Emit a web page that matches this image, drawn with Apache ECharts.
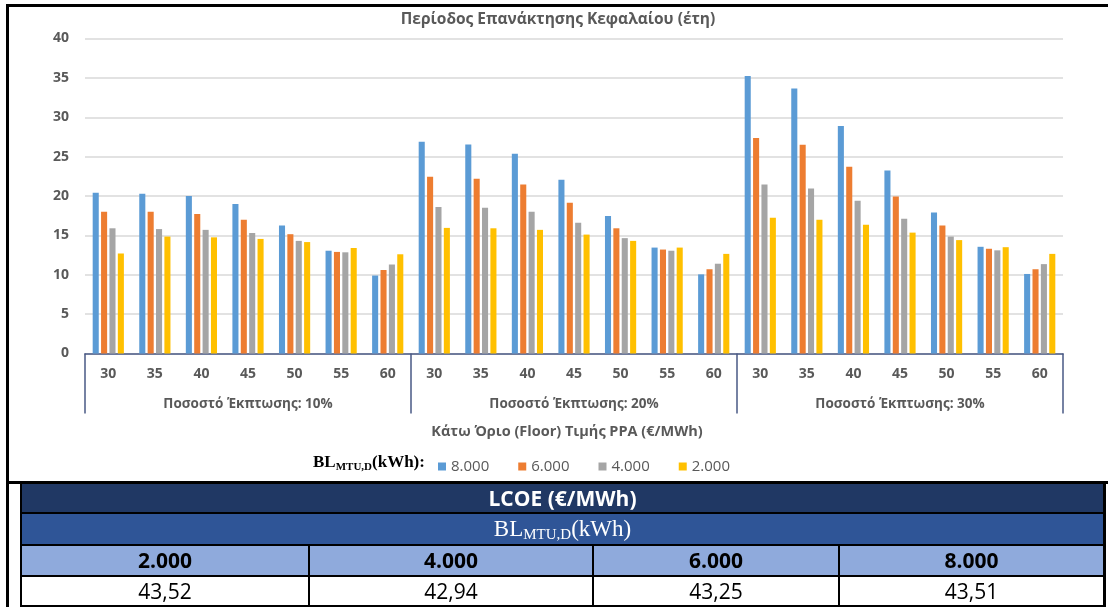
<!DOCTYPE html>
<html>
<head>
<meta charset="utf-8">
<script src="https://cdn.jsdelivr.net/npm/echarts@6/dist/echarts.min.js"></script>
<style>
  html, body { margin: 0; padding: 0; background: #fff; }
  #wrap { position: relative; width: 1108px; height: 607px; overflow: hidden; background: #fff; }
  #chart { position: absolute; left: 0; top: 0; width: 1108px; height: 482px; }
  .ln { position: absolute; background: #000; pointer-events: none; }
  table.lcoe { position: absolute; left: 20px; top: 481px; border-collapse: collapse; table-layout: fixed; width: 1083px; }
  table.lcoe td { border: 2px solid #000; padding: 0; text-align: center; font-family: "Open Sans", "Noto Sans", sans-serif; font-size: 21px; line-height: 28px; height: 28px; color: #000; white-space: nowrap; overflow: hidden; }
  table.lcoe tr.r1 td { background: #203864; color: #fff; font-weight: bold; border-top-width: 3px; }
  table.lcoe tr.r2 td { background: #2F5597; color: #fff; font-family: "Liberation Serif", "DejaVu Serif", serif; font-size: 23px; height: 30px; line-height: 30px; }
  table.lcoe tr.r2 td sub { font-size: 15px; vertical-align: -3px; line-height: 0; }
  table.lcoe tr.r3 td { background: #8FAADC; font-weight: bold; height: 29px; line-height: 29px; }
  table.lcoe tr.r4 td { background: #fff; height: 28px; line-height: 28px; }
</style>
</head>
<body>
<div id="wrap">
  <div id="chart"></div>
  <div class="ln" style="left:6px; top:4px; width:1102px; height:3px;"></div>
  <div class="ln" style="left:6px; top:4px; width:3px; height:603px;"></div>
  <div class="ln" style="left:6px; top:481px; width:1102px; height:3px;"></div>
  <div class="ln" style="left:1105px; top:482px; width:1px; height:125px;"></div>
  <table class="lcoe" id="lcoe"></table>
</div>
<script>
// ---- data ----
const floorPrices = ['30', '35', '40', '45', '50', '55', '60'];
const discountGroups = ['Ποσοστό Έκπτωσης: 10%', 'Ποσοστό Έκπτωσης: 20%', 'Ποσοστό Έκπτωσης: 30%'];
const seriesNames = ['8.000', '6.000', '4.000', '2.000'];
const bl8000 = [20.4, 20.3, 20.0, 19.0, 16.25, 13.05, 9.9,
                26.9, 26.55, 25.35, 22.05, 17.45, 13.45, 10.05,
                35.25, 33.65, 28.9, 23.25, 17.9, 13.55, 10.1];
const bl6000 = [18.0, 18.0, 17.7, 17.0, 15.15, 12.9, 10.6,
                22.45, 22.2, 21.45, 19.15, 15.9, 13.2, 10.7,
                27.35, 26.5, 23.7, 19.95, 16.25, 13.3, 10.7];
const bl4000 = [15.9, 15.8, 15.7, 15.3, 14.3, 12.85, 11.3,
                18.6, 18.5, 18.0, 16.6, 14.65, 13.05, 11.4,
                21.45, 20.95, 19.4, 17.1, 14.85, 13.1, 11.35];
const bl2000 = [12.7, 14.85, 14.75, 14.55, 14.15, 13.4, 12.6,
                15.95, 15.9, 15.7, 15.1, 14.3, 13.45, 12.65,
                17.25, 17.0, 16.35, 15.35, 14.4, 13.5, 12.65];
const yTicks = { min: 0, max: 40, interval: 5 };
const chartTitle = 'Περίοδος Επανάκτησης Κεφαλαίου (έτη)';
const xAxisTitle = 'Κάτω Όριο (Floor) Τιμής PPA (€/MWh)';
const lcoeTitle = 'LCOE (€/MWh)';
const lcoeHeaders = ['2.000', '4.000', '6.000', '8.000'];
const lcoeValues = ['43,52', '42,94', '43,25', '43,51'];

// ---- build ----
const categories = [];
discountGroups.forEach(() => floorPrices.forEach(p => categories.push(p)));
const seriesData = [bl8000, bl6000, bl4000, bl2000];
const colors = ['#5B9BD5', '#ED7D31', '#A5A5A5', '#FFC000'];
const gray = '#595959';
const font = '"Open Sans", "Noto Sans", sans-serif';
const serif = '"Liberation Serif", "DejaVu Serif", serif';
const axisBlue = '#4A5A85';

const chart = echarts.init(document.getElementById('chart'), null, { renderer: 'canvas' });
chart.setOption({
  backgroundColor: '#fff',
  animation: false,
  color: colors,
  grid: { left: 85, right: 45, top: 38.5, bottom: 128.5, containLabel: false, outerBoundsMode: 'none' },
  legend: {
    data: seriesNames,
    left: 433, top: 454,
    icon: 'rect', itemWidth: 8, itemHeight: 8, itemGap: 29,
    textStyle: { color: gray, fontFamily: font, fontSize: 15 }
  },
  xAxis: [
    {
      type: 'category', data: categories, gridIndex: 0, position: 'bottom',
      axisLine: { show: true, lineStyle: { color: axisBlue, width: 1.5 } },
      axisTick: { show: false },
      axisLabel: { interval: 0, color: gray, fontFamily: font, fontSize: 14, fontWeight: 'bold', margin: 14 },
      splitLine: { show: false }
    },
    {
      type: 'category', data: discountGroups, gridIndex: 0, position: 'bottom', offset: 0,
      axisLine: { show: false },
      axisTick: { show: true, interval: 0, length: 60, lineStyle: { color: axisBlue, width: 1.5 } },
      axisLabel: { interval: 0, color: gray, fontFamily: font, fontSize: 13.5, fontWeight: 'bold', margin: 44 },
      splitLine: { show: false }
    }
  ],
  yAxis: {
    type: 'value', min: yTicks.min, max: yTicks.max, interval: yTicks.interval,
    axisLine: { show: false }, axisTick: { show: false },
    axisLabel: { color: gray, fontFamily: font, fontSize: 14, fontWeight: 'bold', margin: 16 },
    splitLine: { show: true, lineStyle: { color: '#D9D9D9', width: 1.5 } }
  },
  series: seriesNames.map((n, i) => ({
    name: n, type: 'bar', xAxisIndex: 0, data: seriesData[i],
    barGap: '38%', barCategoryGap: '33%',
    itemStyle: { color: colors[i] }
  })),
  graphic: [
    {
      type: 'text', x: 558, y: 20,
      style: { text: chartTitle, fill: gray, fontFamily: font, fontSize: 15.5, fontWeight: 'bold', align: 'center', verticalAlign: 'middle' }
    },
    {
      type: 'text', x: 567, y: 432,
      style: { text: xAxisTitle, fill: gray, fontFamily: font, fontSize: 14.5, fontWeight: 'bold', align: 'center', verticalAlign: 'middle' }
    },
    {
      type: 'text', x: 313, y: 463,
      style: {
        text: '{b|BL}{s|MTU,D}{b|(kWh):}', align: 'left', verticalAlign: 'middle',
        rich: {
          b: { fontFamily: serif, fontWeight: 'bold', fontSize: 17, fill: '#000', lineHeight: 20 },
          s: { fontFamily: serif, fontWeight: 'bold', fontSize: 11, fill: '#000', lineHeight: 10, verticalAlign: 'bottom' }
        }
      }
    }
  ]
});

// ---- LCOE table ----
const tbl = document.getElementById('lcoe');
const colW = [288, 284, 246, 265];
let html = '<colgroup>' + colW.map(w => '<col style="width:' + w + 'px">').join('') + '</colgroup>';
html += '<tr class="r1"><td colspan="4">' + lcoeTitle + '</td></tr>';
html += '<tr class="r2"><td colspan="4">BL<sub>MTU,D</sub>(kWh)</td></tr>';
html += '<tr class="r3">' + lcoeHeaders.map(h => '<td>' + h + '</td>').join('') + '</tr>';
html += '<tr class="r4">' + lcoeValues.map(v => '<td>' + v + '</td>').join('') + '</tr>';
tbl.innerHTML = html;
</script>
</body>
</html>
